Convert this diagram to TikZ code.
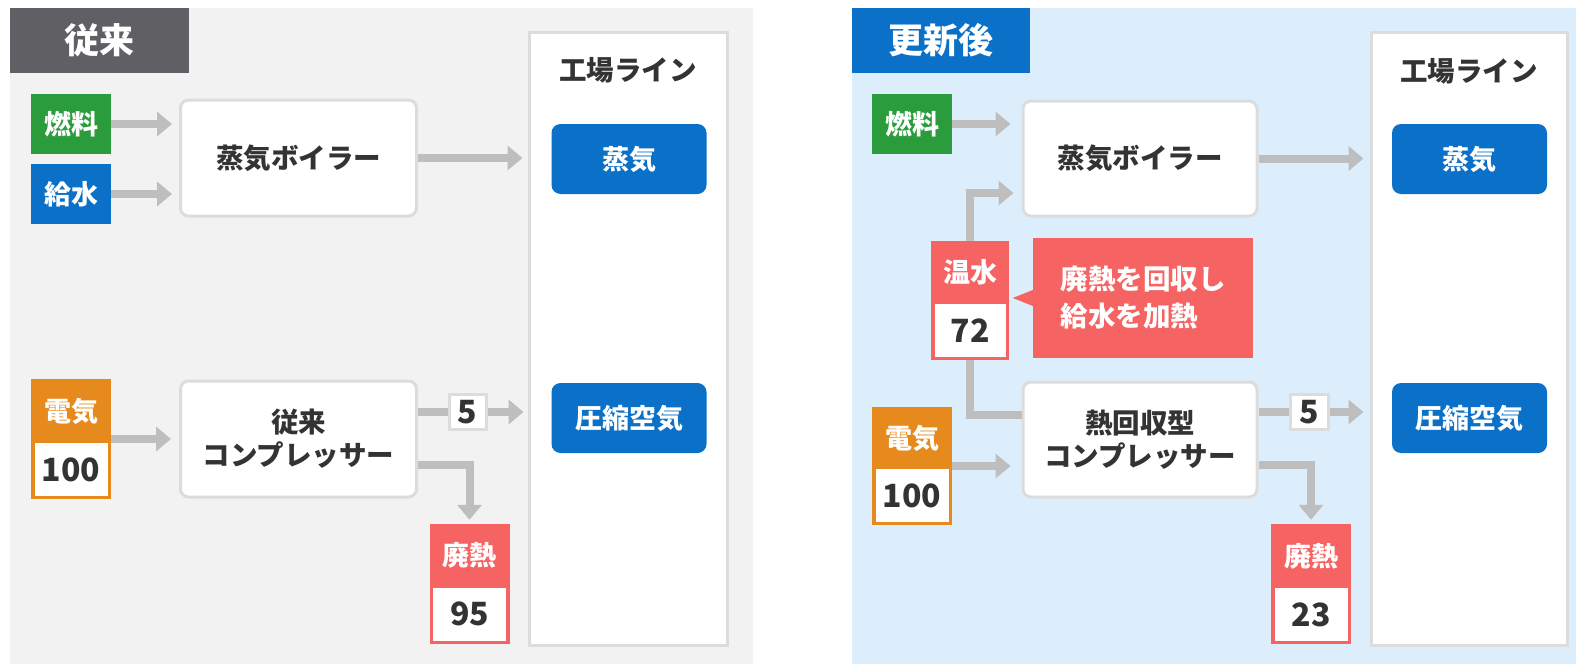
\documentclass[tikz,border=0pt]{standalone}
\usepackage{fontspec}
\setmainfont{Noto Sans CJK JP}
\usetikzlibrary{arrows.meta}
\definecolor{panelgray}{HTML}{F2F2F2}
\definecolor{panelblue}{HTML}{DCEDFB}
\definecolor{tabgray}{HTML}{5F5F64}
\definecolor{mblue}{HTML}{0B71C8}
\definecolor{mgreen}{HTML}{2A9C3B}
\definecolor{morange}{HTML}{E68A1E}
\definecolor{mred}{HTML}{F56363}
\definecolor{pipec}{HTML}{BEBEBE}
\definecolor{boxline}{HTML}{DCDCDC}
\definecolor{txt}{HTML}{333333}
\tikzset{
  tabbox/.style={inner sep=0pt, minimum width=179pt, minimum height=65pt, text=white, font=\bfseries\fontsize{35}{40}\selectfont},
  srcbox/.style={inner sep=0pt, minimum width=80pt, minimum height=60pt, text=white, font=\bfseries\fontsize{27}{32}\selectfont},
  unitbox/.style={draw=boxline, line width=3pt, fill=white, rounded corners=8pt, inner sep=0pt, minimum width=236pt, minimum height=116pt, text=txt, align=center, font=\bfseries\fontsize{27.5}{33}\selectfont},
  colbox/.style={draw=boxline, line width=3pt, fill=white, inner sep=0pt},
  coltitle/.style={inner sep=0pt, text=txt, font=\bfseries\fontsize{27.5}{32}\selectfont},
  destbox/.style={fill=mblue, rounded corners=9pt, minimum width=155pt, minimum height=70pt, inner sep=0pt, text=white, font=\bfseries\fontsize{27}{32}\selectfont},
  valbox/.style={inner sep=0pt, minimum width=80pt, minimum height=120pt},
  valin/.style={fill=white, inner sep=0pt, minimum width=73pt, minimum height=53pt, text=txt, font=\bfseries\fontsize{32}{36}\selectfont},
  vallab/.style={inner sep=0pt, text=white, font=\bfseries\fontsize{27}{32}\selectfont},
  numbox/.style={draw=boxline, line width=3pt, fill=white, minimum width=37pt, minimum height=35pt, inner sep=0pt, text=txt, font=\bfseries\fontsize{32}{34}\selectfont},
  callbox/.style={fill=mred, inner sep=0pt, minimum width=220pt, minimum height=120pt, text=white, align=left, font=\bfseries\fontsize{27.5}{37}\selectfont},
  pipe/.style={draw=pipec, line width=8pt},
  flow/.style={pipe, -{Triangle[length=15pt,width=24pt]}}
}
\begin{document}
\begin{tikzpicture}[x=1pt, y=-1pt]
\useasboundingbox (0,0) rectangle (1576,664);
\fill[white] (0,0) rectangle (1576,664);
\fill[panelgray] (10,8) rectangle (753,664);
\fill[panelblue] (852,8) rectangle (1576,664);

% ---------------- left panel ----------------
\node[tabbox, fill=tabgray] (tabL) at (99.5,40.5) {従来};
\node[colbox, minimum width=198pt, minimum height=613pt] (colL) at (628,338.5) {};
\node[coltitle] (titleL) at (628,70) {工場ライン};
\node[destbox] (steamL) at (629,159) {蒸気};
\node[destbox] (airL) at (629,418) {圧縮空気};

\node[srcbox, fill=mgreen] (fuelL) at (71,124) {燃料};
\node[srcbox, fill=mblue] (waterL) at (71,194) {給水};
\node[unitbox] (boilerL) at (298.5,158) {蒸気ボイラー};
\node[unitbox] (compL) at (298.5,439) {従来\\コンプレッサー};

\node[valbox, fill=morange] (elecL) at (71,439) {};
\node[vallab] (elecLl) at (71,411) {電気};
\node[valin] (elecLv) at (71,469.5) {100};

\node[numbox] (fiveL) at (467.5,412) {5};

\node[valbox, fill=mred] (wasteL) at (469.5,584) {};
\node[vallab] (wasteLl) at (469.5,555.5) {廃熱};
\node[valin] (wasteLv) at (469.5,614) {95};

\draw[flow, shorten >=7pt] (fuelL.east) -- (fuelL.east -| boilerL.west);
\draw[flow, shorten >=7pt] (waterL.east) -- (waterL.east -| boilerL.west);
\draw[flow, shorten >=8pt] (elecL.east) -- (elecL.east -| compL.west);
\draw[flow, shorten >=5pt] (boilerL.east) -- (boilerL.east -| colL.west);
\draw[pipe] ([yshift=27pt]compL.east) -- (fiveL.west);
\draw[flow, shorten >=4pt] (fiveL.east) -- (fiveL.east -| colL.west);
\draw[flow, shorten >=4pt] ([yshift=-26pt]compL.east) -| (wasteL.north);

% ---------------- right panel ----------------
\node[tabbox, fill=mblue, minimum width=178pt] (tabR) at (941,40.5) {更新後};
\node[colbox, minimum width=196pt, minimum height=613pt] (colR) at (1469,338.5) {};
\node[coltitle] (titleR) at (1469,71) {工場ライン};
\node[destbox] (steamR) at (1469.5,159) {蒸気};
\node[destbox] (airR) at (1469.5,418) {圧縮空気};

\node[srcbox, fill=mgreen] (fuelR) at (912,124) {燃料};
\node[unitbox, minimum width=234pt, minimum height=115pt] (boilerR) at (1140,158.5) {蒸気ボイラー};
\node[unitbox, minimum width=234pt, minimum height=115pt] (compR) at (1140,439.5) {熱回収型\\コンプレッサー};

\node[valbox, fill=mred, minimum width=78pt, minimum height=119pt] (hotR) at (970,300.5) {};
\node[vallab] (hotRl) at (970,272.5) {温水};
\node[valin, minimum width=71pt] (hotRv) at (970,330.5) {72};

\node[callbox] (callR) at (1143,298) {廃熱を回収し\\給水を加熱};
\fill[mred] ([yshift=8pt]callR.west) -- ([xshift=-20pt]callR.west) -- ([yshift=-8pt]callR.west) -- cycle;

\node[valbox, fill=morange, minimum height=118pt] (elecR) at (912,466) {};
\node[vallab] (elecRl) at (912,438) {電気};
\node[valin] (elecRv) at (912,495.5) {100};

\node[numbox, minimum width=38pt] (fiveR) at (1309,412) {5};

\node[valbox, fill=mred] (wasteR) at (1311,584) {};
\node[vallab] (wasteRl) at (1311,556) {廃熱};
\node[valin] (wasteRv) at (1311,614.5) {23};

\draw[flow, shorten >=11pt] (fuelR.east) -- (fuelR.east -| boilerR.west);
\draw[flow, shorten >=8pt] (hotR.north) |- ([yshift=-34.5pt]boilerR.west);
\draw[pipe] (hotR.south) |- ([yshift=24.5pt]compR.west);
\draw[flow, shorten >=11pt] (elecR.east) -- (elecR.east -| compR.west);
\draw[flow, shorten >=6pt] (boilerR.east) -- (boilerR.east -| colR.west);
\draw[pipe] ([yshift=27.5pt]compR.east) -- (fiveR.west);
\draw[flow, shorten >=6pt] (fiveR.east) -- (fiveR.east -| colR.west);
\draw[flow, shorten >=4pt] ([yshift=-25.5pt]compR.east) -| (wasteR.north);
\end{tikzpicture}
\end{document}
